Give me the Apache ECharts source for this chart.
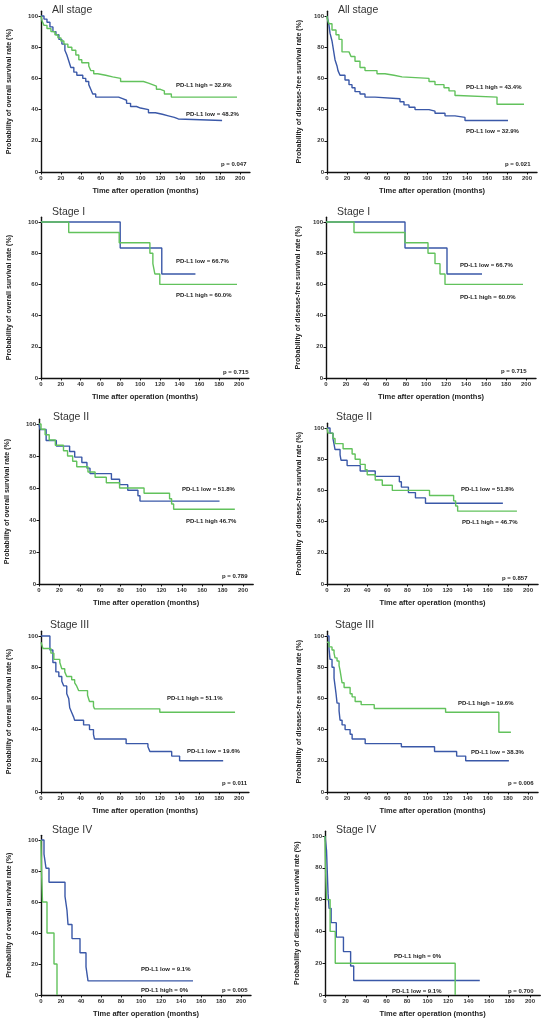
<!DOCTYPE html>
<html>
<head>
<meta charset="utf-8">
<script src="https://cdn.jsdelivr.net/npm/echarts@6/dist/echarts.min.js"></script>
<style>
html,body{margin:0;padding:0;background:#fff}
#main{width:549px;height:1032px}
</style>
</head>
<body>
<div id="main"></div>
<script>
// ticks
var xTicks = [0, 20, 40, 60, 80, 100, 120, 140, 160, 180, 200];
var yTicks = [0, 20, 40, 60, 80, 100];

// texts
var stageTitles = ['All stage', 'All stage', 'Stage I', 'Stage I', 'Stage II', 'Stage II', 'Stage III', 'Stage III', 'Stage IV', 'Stage IV'];
var yNames = ['Probability of overall survival rate (%)', 'Probability of disease-free survival rate (%)'];
var xName = 'Time after operation (months)';
var pTexts = ['p = 0.047', 'p = 0.021', 'p = 0.715', 'p = 0.715', 'p = 0.789', 'p = 0.857', 'p = 0.011', 'p = 0.006', 'p = 0.005', 'p = 0.700'];
var upperLabels = ['PD-L1 high = 32.9%', 'PD-L1 high = 43.4%', 'PD-L1 low = 66.7%', 'PD-L1 low = 66.7%', 'PD-L1 low = 51.8%',
  'PD-L1 low = 51.8%', 'PD-L1 high = 51.1%', 'PD-L1 high = 19.6%', 'PD-L1 low = 9.1%', 'PD-L1 high = 0%'];
var lowerLabels = ['PD-L1 low = 48.2%', 'PD-L1 low = 32.9%', 'PD-L1 high = 60.0%', 'PD-L1 high = 60.0%', 'PD-L1 high 46.7%',
  'PD-L1 high = 46.7%', 'PD-L1 low = 19.6%', 'PD-L1 low = 38.3%', 'PD-L1 high = 0%', 'PD-L1 low = 9.1%'];

// Kaplan-Meier curves [month, survival %]
var osAllHigh = [[0,100],[1,97],[3,94],[6,92],[10,90],[14,88],[17,86],[20,84],[23,82],[27,80],[31,78],[35,75],[38,72],[41,70],[48,68],[50,65],[53,63],[57,62],[65,61],[72,60],[80,58],[103,57],[108,56],[112,55],[116,53],[120,52],[124,50],[131,48],[197,48]];
var osAllLow = [[0,100],[3,98],[6,96],[9,93],[12,90],[15,88],[18,85],[21,82],[24,78],[26,75],[28,71],[30,67],[33,64],[36,62],[42,60],[45,58],[48,56],[50,53],[52,50],[55,48],[75,48],[78,47],[82,46],[86,44],[90,42],[96,41],[100,40],[108,38],[115,37],[122,36],[128,35],[134,34],[138,33],[182,33]];
var dfsAllHigh = [[0,100],[0.3,98],[2,95],[5,91],[9,88],[12,85],[15,77],[22,76],[24,74],[28,71],[33,67],[38,65],[50,63],[58,62],[67,61],[75,60],[102,58],[108,56],[117,54],[122,52],[128,49],[131,48],[170,43.4],[197,43.4]];
var dfsAllLow = [[0,100],[2,94],[3,89],[5,84],[6,80],[7,76],[8,72],[10,68],[11,65],[13,62],[18,59],[22,56],[25,54],[28,51.5],[33,50],[38,48],[48,47],[73,45],[77,43],[82,41.5],[88,40],[102,39],[108,37.7],[118,36],[128,35],[138,33],[181,33]];

var osS1High = [[0,100],[28,93.3],[79,86.7],[110,80],[113,73.3],[115,66.7],[120,60],[198,60]];
var osS1Low = [[0,100],[80,83.3],[122,66.7],[156,66.7]];
var dfsS1High = [[0,100],[28,93.3],[79,86.7],[102,80],[109,73.3],[114,66.7],[119,60],[197,60]];
var dfsS1Low = [[0,100],[79,83.3],[121,66.7],[156,66.7]];

var osS2High = [[0,100],[2,96.7],[6,93.3],[10,90],[16,86.7],[24,83.3],[28,80],[33,76.7],[37,73.3],[48,70],[55,66.7],[66,63.3],[79,60],[103,56.7],[128,53.3],[130,50],[132,46.7],[192,46.7]];
var osS2Low = [[0,100],[1,96.6],[7,89.7],[17,86.2],[30,82.8],[35,79.3],[42,75.9],[47,72.4],[50,69],[71,65.5],[79,62.1],[87,58.6],[97,55.2],[99,51.8],[177,51.8]];
var dfsS2High = [[0,100],[1,96.7],[6,93.3],[8,90],[16,86.7],[25,83.3],[28,80],[33,76.7],[38,73.3],[40,70],[48,66.7],[55,63.3],[65,60],[102,56.7],[126,53.3],[128,50],[130,46.7],[189,46.7]];
var dfsS2Low = [[0,100],[3,96.6],[6,93.1],[7,89.7],[8,86.2],[13,82.8],[14,79.3],[20,75.9],[33,72.4],[48,69],[72,65.5],[74,62.1],[81,58.6],[88,55.2],[98,51.8],[175,51.8]];

var osS3High = [[0,96],[2,92],[10,89],[13,85],[19,83],[21,79],[24,77],[26,74],[31,72],[34,70],[36,68],[38,65],[47,62],[49,58],[53,55],[54,53.3],[120,51.1],[196,51.1]];
var osS3Low = [[0,100],[9,91],[12,83],[15,77],[18,74],[21,71],[23,68],[26,63],[28,60],[29,54],[31,51],[33,48],[34,46],[43,43],[49,40],[53,37],[54,34],[86,31],[108,29],[110,26],[132,23],[140,20],[184,20]];
var dfsS3High = [[0,96],[2,93],[5,91],[7,89],[8,86],[10,84],[12,81],[13,78],[14,74],[15,70],[17,67],[23,63],[25,61],[28,58],[34,56],[47,53.5],[118,51.1],[171,38.3],[183,38.3]];
var dfsS3Low = [[0,100],[2,92],[3,85],[5,80],[7,73],[8,68],[9,63],[10,57],[12,52],[13,46],[15,43],[18,40],[23,37],[25,34],[38,31],[74,29],[107,26],[129,23],[138,20],[181,20]];

var osS4High = [[0,100],[0.5,80],[1.5,60],[6,40],[13,20],[16,0]];
var osS4Low = [[0,100],[3,90.9],[5,81.8],[8,72.7],[24,63.6],[26,54.5],[27,45.5],[31,36.4],[39,27.3],[45,18.2],[47,9.1],[152,9.1]];
var dfsS4High = [[0,100],[0.5,80],[1.5,60],[5,40],[10,20],[127,0]];
var dfsS4Low = [[0,100],[1.5,90.9],[3,63.6],[4,54.5],[6,45.5],[11,36.4],[18,27.3],[25,18.2],[28,9.1],[151,9.1]];

var highCurves = [osAllHigh, dfsAllHigh, osS1High, dfsS1High, osS2High, dfsS2High, osS3High, dfsS3High, osS4High, dfsS4High];
var lowCurves = [osAllLow, dfsAllLow, osS1Low, dfsS1Low, osS2Low, dfsS2Low, osS3Low, dfsS3Low, osS4Low, dfsS4Low];

// layout: pixel [x at 0, x at 200, y at 0, y at 100]
var panelBox = [
  [41, 240, 172, 16], [327, 527, 172, 16],
  [41, 239, 378, 222], [326, 526, 378, 222],
  [39, 243, 584, 424], [327, 528, 584, 428],
  [41, 239, 792, 636], [327, 528, 792, 636],
  [41, 241, 995, 840], [325, 530, 995, 836]
];
// text anchors: title, upper label, lower label, p value  [x, yCenter]
var textPos = [
  [[52,10],[176,85],[186,114],[221,164]],
  [[338,10],[466,87],[466,131],[505,164]],
  [[52,212],[176,261],[176,295],[223,372]],
  [[337,212],[460,265],[460,297],[501,371]],
  [[53,417],[182,489],[186,521],[222,576]],
  [[336,417],[461,489],[462,522],[502,578]],
  [[50,625],[167,698],[187,751],[222,783]],
  [[335,625],[458,703],[471,752],[508,783]],
  [[52,830],[141,969],[141,990],[222,990]],
  [[336,830],[394,956],[392,991],[508,991]]
];

var GREEN = '#62c25c';
var BLUE = '#3a58a8';
var FONT = 'Liberation Sans, Arial, sans-serif';

var grids = [], xAxes = [], yAxes = [], series = [], graphics = [];

panelBox.forEach(function (b, i) {
  var w = (b[1] - b[0]) * 210 / 200;
  var h = (b[2] - b[3]) * 103 / 100;
  grids.push({ left: b[0], top: b[2] - h, width: w, height: h });
  var right = i % 2 === 1;
  xAxes.push({
    type: 'value', gridIndex: i, min: 0, max: 210,
    name: xName, nameLocation: 'middle', nameGap: 15,
    nameTextStyle: { fontFamily: FONT, fontWeight: 'bold', fontSize: 7.5, color: '#222' },
    splitLine: { show: false },
    axisLine: { lineStyle: { color: '#111', width: 1.4 } },
    axisTick: { length: 2.5, lineStyle: { color: '#111' }, customValues: xTicks },
    axisLabel: { fontFamily: FONT, fontSize: 6, fontWeight: 'bold', color: '#333', margin: 3, customValues: xTicks }
  });
  yAxes.push({
    type: 'value', gridIndex: i, min: 0, max: 103,
    name: yNames[i % 2], nameLocation: 'middle', nameGap: right ? 24 : 28,
    nameTextStyle: { fontFamily: FONT, fontWeight: 'bold', fontSize: 7, color: '#222' },
    splitLine: { show: false },
    axisLine: { show: true, lineStyle: { color: '#111', width: 1.4 } },
    axisTick: { show: true, length: 2.5, lineStyle: { color: '#111' }, customValues: yTicks },
    axisLabel: { fontFamily: FONT, fontSize: 6, fontWeight: 'bold', color: '#333', margin: 3, customValues: yTicks }
  });
  series.push({
    type: 'line', xAxisIndex: i, yAxisIndex: i, step: 'end', showSymbol: false,
    data: highCurves[i], lineStyle: { color: GREEN, width: 1.4 }, itemStyle: { color: GREEN }, z: 3
  });
  series.push({
    type: 'line', xAxisIndex: i, yAxisIndex: i, step: 'end', showSymbol: false,
    data: lowCurves[i], lineStyle: { color: BLUE, width: 1.4 }, itemStyle: { color: BLUE }, z: 2
  });

  var t = textPos[i];
  graphics.push({ type: 'text', x: t[0][0], y: t[0][1],
    style: { text: stageTitles[i], fill: '#333', font: '10.5px ' + FONT, verticalAlign: 'middle' } });
  [upperLabels[i], lowerLabels[i], pTexts[i]].forEach(function (s, k) {
    graphics.push({ type: 'text', x: t[k + 1][0], y: t[k + 1][1],
      style: { text: s, fill: '#222', font: 'bold 6px ' + FONT, verticalAlign: 'middle' } });
  });
});

var chart = echarts.init(document.getElementById('main'));
chart.setOption({
  animation: false,
  backgroundColor: '#fff',
  grid: grids,
  xAxis: xAxes,
  yAxis: yAxes,
  series: series,
  graphic: graphics
});
</script>
</body>
</html>
